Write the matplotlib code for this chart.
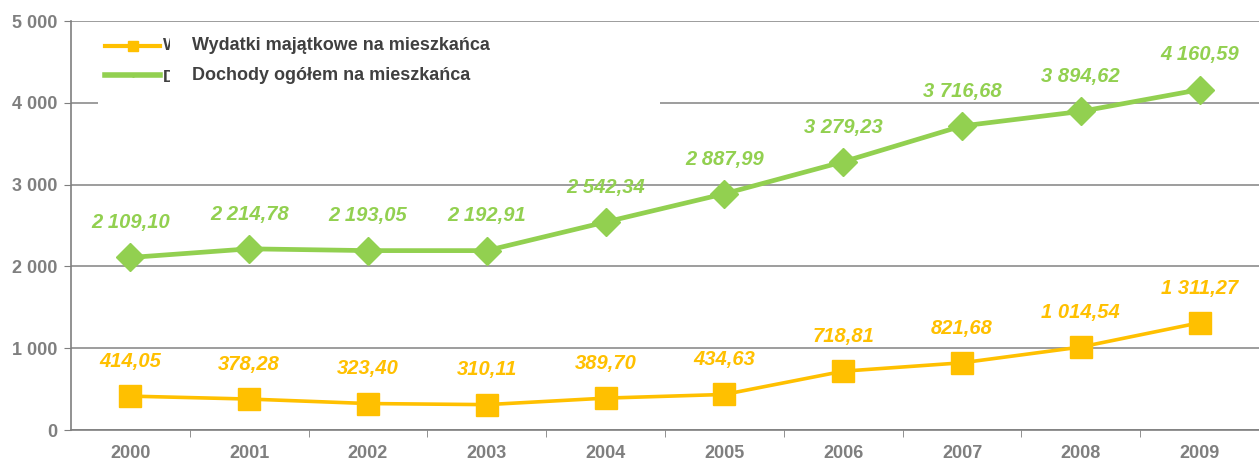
import matplotlib.pyplot as plt
from matplotlib.lines import Line2D
from matplotlib.patches import Rectangle
from matplotlib.transforms import Bbox, TransformedBbox

years = ["2000", "2001", "2002", "2003", "2004", "2005", "2006", "2007", "2008", "2009"]
wydatki = [414.05, 378.28, 323.40, 310.11, 389.70, 434.63, 718.81, 821.68, 1014.54, 1311.27]
dochody = [2109.10, 2214.78, 2193.05, 2192.91, 2542.34, 2887.99, 3279.23, 3716.68, 3894.62, 4160.59]
wyd_labels = ["414,05", "378,28", "323,40", "310,11", "389,70", "434,63", "718,81", "821,68", "1 014,54", "1 311,27"]
doch_labels = ["2 109,10", "2 214,78", "2 193,05", "2 192,91", "2 542,34", "2 887,99", "3 279,23", "3 716,68", "3 894,62", "4 160,59"]
series_names = ["Wydatki majątkowe na mieszkańca", "Dochody ogółem na mieszkańca"]
yticks = [0, 1000, 2000, 3000, 4000, 5000]
ytick_labels = ["0", "1 000", "2 000", "3 000", "4 000", "5 000"]

ORANGE = "#FFC000"
GREEN = "#92D050"
GRAY = "#7F7F7F"
DARK = "#404040"

plt.rcParams["font.family"] = ["Liberation Sans", "DejaVu Sans"]

W, H = 1259, 461
fig = plt.figure(figsize=(W / 100, H / 100), dpi=100)
ax = fig.add_axes([71 / W, 31 / H, (W - 71) / W, (430 - 21) / H])

x = list(range(len(years)))
ax.plot(x, dochody, color=GREEN, lw=3.4, marker="D", ms=14.5, zorder=3)
ax.plot(x, wydatki, color=ORANGE, lw=2.6, marker="s", ms=16, zorder=3)

for xi, v, t in zip(x, dochody, doch_labels):
    ax.annotate(t, (xi, v), xytext=(0, 25), textcoords="offset points", ha="center", va="center",
                color=GREEN, fontsize=14.5, fontweight="bold", style="italic")
for xi, v, t in zip(x, wydatki, wyd_labels):
    ax.annotate(t, (xi, v), xytext=(0, 25), textcoords="offset points", ha="center", va="center",
                color=ORANGE, fontsize=14.5, fontweight="bold", style="italic")

ax.set_xlim(-0.5, len(years) - 0.5)
ax.set_ylim(0, 5000)
ax.set_yticks(yticks)
ax.set_yticklabels(ytick_labels)
ax.set_xticks(x)
ax.set_xticklabels(years)
ax.set_xticks([i + 0.5 for i in x[:-1]], minor=True)
ax.tick_params(axis="x", which="major", length=0, pad=11)
ax.tick_params(axis="x", which="minor", length=5, color=GRAY)
ax.tick_params(axis="y", length=5, color=GRAY, pad=5)
for lab in ax.get_xticklabels() + ax.get_yticklabels():
    lab.set_color(GRAY)
    lab.set_fontweight("bold")
    lab.set_fontsize(13)

ax.grid(axis="y", color="#8C8C8C", lw=1.2)
ax.set_axisbelow(True)
for s in ["top", "right"]:
    ax.spines[s].set_visible(False)
for s in ["left", "bottom"]:
    ax.spines[s].set_color(GRAY)
    ax.spines[s].set_linewidth(1.2)

# legend box (white area covering gridlines)
fig.patches.append(Rectangle((98 / W, 1 - 107 / H), (660 - 98) / W, (107 - 25) / H,
                             transform=fig.transFigure, facecolor="white", edgecolor="none", zorder=5))
handles = [Line2D([0], [0], color=ORANGE, lw=3, marker="s", ms=7),
           Line2D([0], [0], color=GREEN, lw=4, marker="D", ms=2)]
leg = fig.legend(handles, [" ", " "], loc="center left", bbox_to_anchor=(105 / W, 1 - 61.5 / H),
                 frameon=False, handlelength=3.3, handletextpad=0.2, labelspacing=0.85,
                 borderpad=0, borderaxespad=0, prop={"weight": "bold", "size": 12})
leg.set_zorder(6)

# clipped first letters of the original legend labels
clip = TransformedBbox(Bbox([[0, 0], [170 / W, 1]]), fig.transFigure)
for yy, name in zip([46, 77], series_names):
    frag = fig.text(163 / W, 1 - yy / H, name[0], color=DARK, fontsize=12.5, fontweight="bold",
                    va="center", ha="left", zorder=7)
    frag.set_clip_box(clip)
    frag.set_clip_on(True)

fig.text(192 / W, 1 - 46 / H, series_names[0], color=DARK, fontsize=13, fontweight="bold",
         va="center", ha="left", zorder=7)
fig.text(192 / W, 1 - 75 / H, series_names[1], color=DARK, fontsize=13, fontweight="bold",
         va="center", ha="left", zorder=7)

fig.savefig("out.png", dpi=100)
